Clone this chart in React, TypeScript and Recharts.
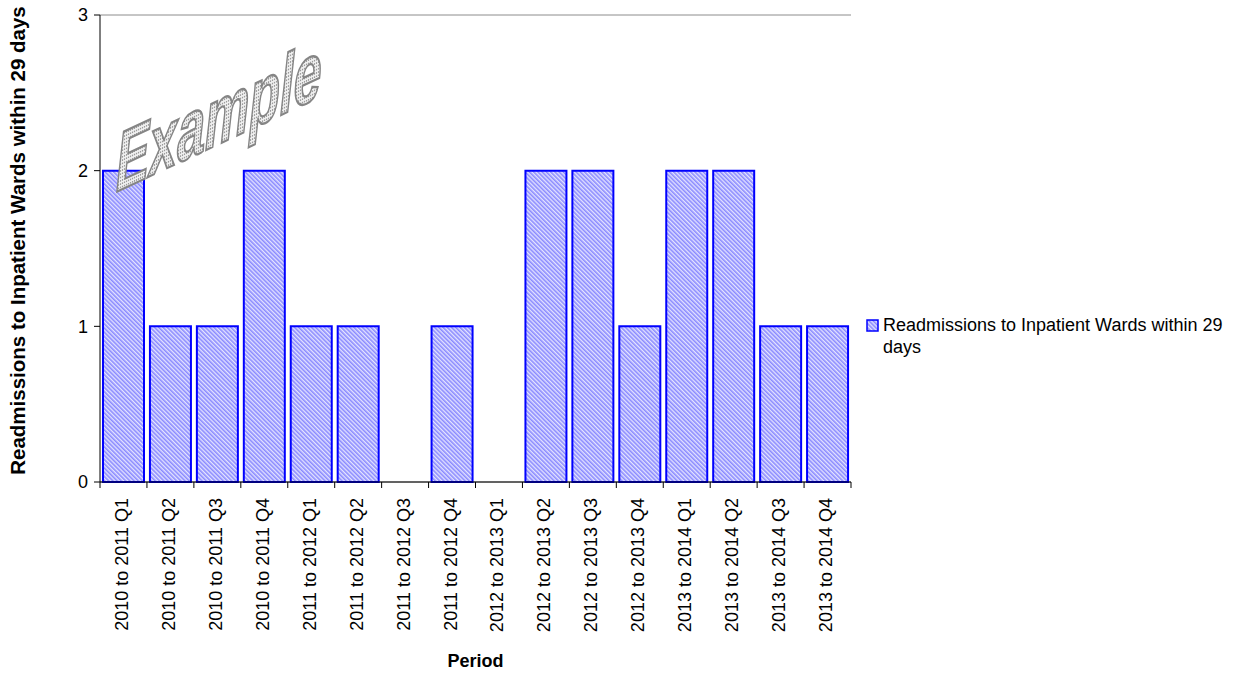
import React from 'react';
import { BarChart, Bar, XAxis, YAxis, CartesianGrid, Legend } from 'recharts';

const periods = [
  '2010 to 2011 Q1',
  '2010 to 2011 Q2',
  '2010 to 2011 Q3',
  '2010 to 2011 Q4',
  '2011 to 2012 Q1',
  '2011 to 2012 Q2',
  '2011 to 2012 Q3',
  '2011 to 2012 Q4',
  '2012 to 2013 Q1',
  '2012 to 2013 Q2',
  '2012 to 2013 Q3',
  '2012 to 2013 Q4',
  '2013 to 2014 Q1',
  '2013 to 2014 Q2',
  '2013 to 2014 Q3',
  '2013 to 2014 Q4',
];
const readmissions = [2, 1, 1, 2, 1, 1, 0, 1, 0, 2, 2, 1, 2, 2, 1, 1];
const yTicks = [0, 1, 2, 3];

const SERIES_NAME = 'Readmissions to Inpatient Wards within 29 days';
const FONT = 'Arial, "Liberation Sans", sans-serif';

const data = periods.map((period, i) => ({ period, value: readmissions[i] }));

// Excel-style category ticks: marks sit between bars, labels rotated upward
const PeriodTick = (props: any) => {
  const { x, y, payload, index } = props;
  const half = payload?.offset ?? 0;
  const tx = x - 2;
  const ty = y + 16;
  return (
    <g>
      <line x1={x - half} x2={x - half} y1={y} y2={y + 6} stroke="#000" />
      {index === periods.length - 1 && (
        <line x1={x + half} x2={x + half} y1={y} y2={y + 6} stroke="#000" />
      )}
      <text
        x={tx}
        y={ty}
        dy="0.36em"
        textAnchor="end"
        transform={`rotate(-90, ${tx}, ${ty})`}
        fontSize={18}
        fontFamily={FONT}
        fill="#000"
      >
        {payload.value}
      </text>
    </g>
  );
};

const YTitle = (props: any) => {
  const { viewBox } = props;
  const x = (viewBox?.x ?? 0) + 18;
  const y = (viewBox?.y ?? 0) + (viewBox?.height ?? 0) / 2 - 8;
  return (
    <text
      x={x}
      y={y}
      dy="0.36em"
      textAnchor="middle"
      transform={`rotate(-90, ${x}, ${y})`}
      fontFamily={FONT}
      fontSize={20.5}
      fontWeight="bold"
      fill="#000"
    >
      {SERIES_NAME}
    </text>
  );
};

const LegendBox = () => (
  <div style={{ display: 'flex', alignItems: 'flex-start', fontFamily: FONT, fontSize: 18, color: '#000', textAlign: 'left' }}>
    <svg width={14} height={14} style={{ marginTop: 3, flexShrink: 0 }}>
      <rect x={1} y={1} width={11} height={11} fill="url(#stripes)" stroke="#0000ff" strokeWidth={1.5} />
    </svg>
    <span style={{ marginLeft: 3, width: 362, lineHeight: '22px', marginTop: -2 }}>{SERIES_NAME}</span>
  </div>
);

export default function App() {
  return (
    <div style={{ position: 'absolute', left: 0, top: 0, width: 1248, height: 675, background: '#fff' }}>
      <BarChart
        width={1248}
        height={675}
        data={data}
        margin={{ top: 15, right: 397, bottom: 0, left: 0 }}
        barCategoryGap={3}
      >
        <defs>
          <pattern id="stripes" width={3} height={3} patternUnits="userSpaceOnUse" patternTransform="rotate(-45)">
            <rect width={3} height={3} fill="#e4e4ff" />
            <rect width={1.6} height={3} fill="#8a8aff" />
          </pattern>
        </defs>
        <CartesianGrid horizontal vertical={false} stroke="#8c8c8c" strokeWidth={1} />
        <XAxis
          dataKey="period"
          interval={0}
          height={193}
          tickLine={false}
          tickSize={0}
          tickMargin={0}
          axisLine={{ stroke: '#000' }}
          tick={<PeriodTick />}
          label={{
            value: 'Period',
            position: 'insideBottom',
            offset: 8,
            style: { fontFamily: FONT, fontSize: 18, fontWeight: 'bold', fill: '#000' },
          }}
        />
        <YAxis
          yAxisId="left"
          width={100}
          domain={[0, 3]}
          ticks={yTicks}
          interval={0}
          tickSize={6}
          tickMargin={6}
          axisLine={{ stroke: '#000' }}
          tickLine={{ stroke: '#000' }}
          tick={{ fontFamily: FONT, fontSize: 18, fill: '#000' }}
          label={<YTitle />}
        />
        <YAxis
          yAxisId="right"
          orientation="right"
          width={0}
          domain={[0, 3]}
          tick={false}
          tickLine={false}
          axisLine={{ stroke: '#000' }}
        />
        <Legend
          layout="horizontal"
          verticalAlign="middle"
          align="center"
          wrapperStyle={{ left: 866, top: 316, width: 380 }}
          content={<LegendBox />}
        />
        <Bar
          yAxisId="left"
          dataKey="value"
          name={SERIES_NAME}
          fill="url(#stripes)"
          stroke="#0000ff"
          strokeWidth={2}
          isAnimationActive={false}
        />
      </BarChart>
      <svg
        width={1248}
        height={675}
        style={{ position: 'absolute', left: 0, top: 0, pointerEvents: 'none' }}
      >
        <defs>
          <pattern id="dots" width={2} height={2} patternUnits="userSpaceOnUse">
            <rect width={2} height={2} fill="#f0f0f0" />
            <rect width={1} height={1} fill="#909090" />
          </pattern>
        </defs>
        <text
          transform="translate(116,192) skewY(-25) scale(1,1.65)"
          fontFamily={FONT}
          fontSize={50}
          fontWeight="bold"
          fontStyle="italic"
          fill="url(#dots)"
          stroke="#858585"
          strokeWidth={1.4}
        >
          Example
        </text>
      </svg>
    </div>
  );
}
